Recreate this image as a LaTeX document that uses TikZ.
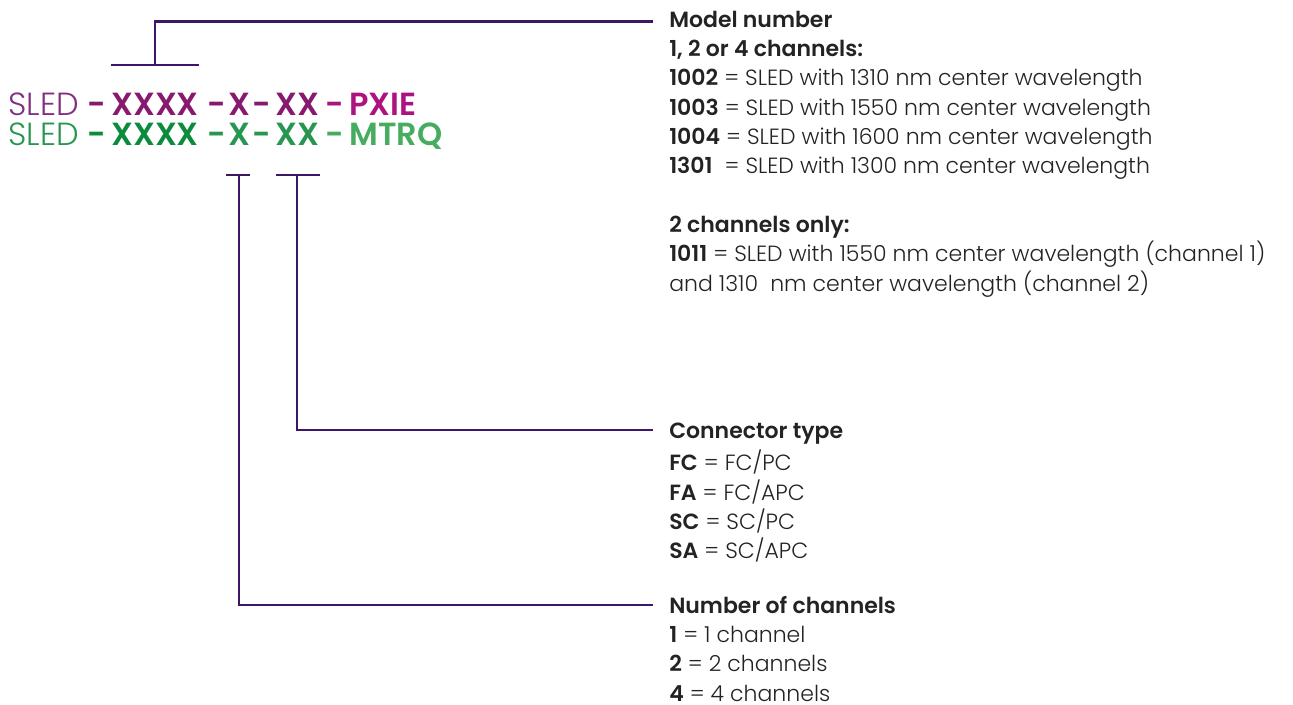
\documentclass[tikz,border=0pt]{standalone}
\usepackage{fontspec}
\setmainfont{Poppins}[UprightFont=* Light, BoldFont=* SemiBold]
\usetikzlibrary{positioning}
\definecolor{linepurple}{RGB}{62,22,102}
\definecolor{textgray}{RGB}{35,35,35}
\definecolor{pxieA}{RGB}{128,48,128}
\definecolor{pxieB}{RGB}{135,25,110}
\definecolor{pxieC}{RGB}{172,18,128}
\definecolor{mtrqA}{RGB}{40,150,80}
\definecolor{mtrqB}{RGB}{10,140,60}
\definecolor{mtrqC}{RGB}{70,172,95}

\tikzset{
  code/.style={anchor=base, inner sep=0pt, font=\fontsize{24}{24}\selectfont},
  head/.style={anchor=base west, inner sep=0pt, text=textgray, font=\fontsize{16.5}{22}\selectfont\bfseries},
  txt/.style={anchor=north west, inner sep=0pt, align=left, text=textgray, font=\fontsize{16.5}{22}\selectfont},
  bar/.style={draw=linepurple, line width=1.9pt}
}

\begin{document}
\begin{tikzpicture}[x=0.75pt, y=-0.75pt]
    \useasboundingbox (0,0) rectangle (1293,704);

    % PXIE code
    \node[code, anchor=base west, text=pxieA] (p0) at (8,115) {SLED};
    \node[code, text=pxieB] (p1) at (97,115) {\bfseries -};
    \node[code, text=pxieB] (p2) at (155,115) {\bfseries XXXX};
    \node[code, text=pxieB] (p3) at (217,115) {\bfseries -};
    \node[code, text=pxieB] (p4) at (239,115) {\bfseries X};
    \node[code, text=pxieB] (p5) at (262,115) {\bfseries -};
    \node[code, text=pxieB] (p6) at (297,115) {\bfseries XX};
    \node[code, text=pxieC] (p7) at (335,115) {\bfseries -};
    \node[code, anchor=base west, text=pxieC] (p8) at (349,115) {\bfseries PXIE};

    % MTRQ code
    \node[code, anchor=base west, text=mtrqA] (m0) at (8,145) {SLED};
    \node[code, text=mtrqB] (m1) at (97,145) {\bfseries -};
    \node[code, text=mtrqB] (m2) at (155,145) {\bfseries XXXX};
    \node[code, text=mtrqA] (m3) at (217,145) {\bfseries -};
    \node[code, text=mtrqA] (m4) at (239,145) {\bfseries X};
    \node[code, text=mtrqA] (m5) at (262,145) {\bfseries -};
    \node[code, text=mtrqA] (m6) at (297,145) {\bfseries XX};
    \node[code, text=mtrqC] (m7) at (335,145) {\bfseries -};
    \node[code, anchor=base west, text=mtrqC] (m8) at (349,145) {\bfseries MTRQ};

    % Model number
    \node[head] (model) at (669,27) {Model number};
    \node[txt] (modelbody) at (669,40) {\textbf{1, 2 or 4 channels:}\\
        \textbf{1002} = SLED with 1310 nm center wavelength\\
        \textbf{1003} = SLED with 1550 nm center wavelength\\
        \textbf{1004} = SLED with 1600 nm center wavelength\\
        \textbf{1301}\ \ = SLED with 1300 nm center wavelength\\[22pt]
        \textbf{2 channels only:}\\
        \textbf{1011}\ = SLED with 1550 nm center wavelength (channel 1)\\
        and 1310\ \ nm center wavelength (channel 2)};

    % Connector type
    \node[head] (conn) at (669,438) {Connector type};
    \node[txt] (connbody) at (669,450) {\textbf{FC} = FC/PC\\
        \textbf{FA} = FC/APC\\
        \textbf{SC} = SC/PC\\
        \textbf{SA} = SC/APC};

    % Number of channels
    \node[head] (chan) at (669,613) {Number of channels};
    \node[txt] (chanbody) at (669,626) {\textbf{1} = 1 channel\\
        \textbf{2} = 2 channels\\
        \textbf{4} = 4 channels};

    % brackets and leaders
    \draw[bar] (111,65) -- (199,65);
    \draw[bar] (p2.center |- 0,65) |- ([xshift=-12pt, yshift=4pt]model.base west);
    \draw[bar] (226,175) -- (250,175);
    \draw[bar] (m4.center |- 0,175) |- ([xshift=-12pt, yshift=6pt]chan.base west);
    \draw[bar] (276,175) -- (320,175);
    \draw[bar] (m6.center |- 0,175) |- ([xshift=-12pt, yshift=6pt]conn.base west);
\end{tikzpicture}
\end{document}
